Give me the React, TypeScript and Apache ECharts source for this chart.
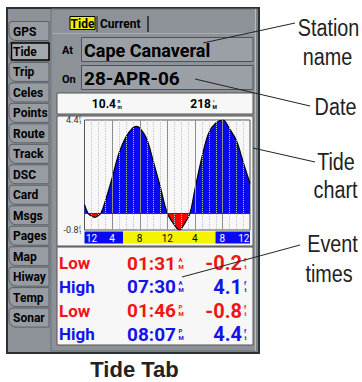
import React, { useEffect, useRef } from "react";
import * as echarts from "echarts";

// ---- data ----
const tideHours = [0, 0.5, 1, 1.5, 2, 2.4, 3, 4, 5, 6, 7, 7.5, 8, 9, 10, 11, 12, 13, 13.77, 14.5, 15.3, 16, 17, 18, 19, 20.1, 21, 22, 23, 24];
const tideFeet = [0.4, 0.0, -0.14, -0.2, -0.12, 0.0, 0.55, 1.65, 2.83, 3.6, 4.03, 4.1, 4.03, 3.53, 2.42, 1.23, 0.0, -0.55, -0.8, -0.5, 0.0, 1.1, 2.6, 3.78, 4.25, 4.4, 4.0, 3.45, 2.42, 1.4];
const yTickValues = [-0.8, 4.4];
const hourTicks = [0, 4, 8, 12, 16, 20, 24];
const hourTickLabels = ["12", "4", "8", "12", "4", "8", "12"];
const daylightHours = [5.6, 19.0];
const tabNames = ["GPS", "Tide", "Trip", "Celes", "Points", "Route", "Track", "DSC", "Card", "Msgs", "Pages", "Map", "Hiway", "Temp", "Sonar"];
const selectedTab = "Tide";
const stationName = "Cape Canaveral";
const dateText = "28-APR-06";
const distanceValue = "10.4";
const bearingValue = "218";
const eventTypes = ["Low", "High", "Low", "High"];
const eventTimes = ["01:31", "07:30", "01:46", "08:07"];
const eventAmPm = ["AM", "AM", "PM", "PM"];
const eventHeights = [-0.2, 4.1, -0.8, 4.4];

const RED = "#f01414";
const BLUE = "#1414e8";
const FILL_BLUE = "#0a0af2";
const FILL_RED = "#ff0000";
const UI = "Roboto";
const ANNO = "'Liberation Sans', Arial, sans-serif";

type El = any;
const mkText = (x: number, y: number, t: string, font: string, fill: string, align = "left", z = -5, extra: any = {}): El => ({
  type: "text", z, x, y, silent: true, ...extra,
  style: { text: t, font, fill, align, verticalAlign: "middle", textAlign: align, textVerticalAlign: "middle" },
});
const mkLine = (x1: number, y1: number, x2: number, y2: number, stroke: string, lw = 1, z = -15, dash?: number[]): El => ({
  type: "line", z, silent: true, shape: { x1, y1, x2, y2 }, style: { stroke, lineWidth: lw, lineDash: dash },
});
const mkRect = (x: number, y: number, w: number, h: number, fill: string, stroke: string, lw = 1, z = -20, r: any = 0): El => ({
  type: "rect", z, silent: true, shape: { x, y, width: w, height: h, r }, style: { fill, stroke, lineWidth: lw },
});

function buildGraphics() {
  const els: El[] = [];
  const rect = (...a: any[]) => els.push((mkRect as any)(...a));
  const text = (...a: any[]) => els.push((mkText as any)(...a));
  const line = (...a: any[]) => els.push((mkLine as any)(...a));

  // device frame
  rect(7, 8, 252, 345, "#8d9298", "#2e3134", 2, -30);
  rect(51, 9, 206, 342, "none", "#6b7075", 1, -29);
  line(255.5, 9, 255.5, 351, "#b8bcc0", 1, -28);
  line(52, 33.5, 254, 33.5, "#a9adb2", 1, -28);

  // left tabs
  tabNames.forEach((name, i) => {
    const cy = 31 + i * 20.47;
    rect(9, cy - 9.5, 40, 19, "#979ca2", "#5b6064", 1, -25, [3, 0, 0, 7]);
    if (name === selectedTab) rect(11.5, cy - 8.5, 37.5, 17, "#a4a9ae", "#000", 1.5, -24);
    text(13, cy + 0.5, name, `bold 12px ${UI}`, "#000");
  });

  // top tabs
  rect(70, 16.5, 25, 13, "#f2f200", "#000", 1, -24);
  text(82.5, 23.5, "Tide", `bold 12px ${UI}`, "#000", "center");
  text(100, 23.5, "Current", `bold 12px ${UI}`, "#000");
  line(97, 16, 97, 32, "#222", 1);
  line(148, 16, 148, 32, "#222", 1.5);

  // At / On rows
  text(62, 50.5, "At", `bold 11px ${UI}`, "#000");
  text(62, 79, "On", `bold 11px ${UI}`, "#000");
  rect(81.5, 37.5, 171.5, 24, "#9aa0a6", "#4e5256", 1, -22);
  rect(81.5, 65.5, 171.5, 24, "#9aa0a6", "#4e5256", 1, -22);
  text(84, 50, stationName, `bold 18px ${UI}`, "#000");
  text(84, 78, dateText, `bold 19px ${UI}`, "#000");

  // info bar
  rect(57, 93, 196, 21, "#f7f7f7", "#555", 1, -22);
  text(116, 104, distanceValue, `bold 12px ${UI}`, "#000", "right");
  text(117.5, 101, "n", `bold 5px ${UI}`, "#000");
  text(117.5, 107, "m", `bold 5px ${UI}`, "#000");
  text(211, 104, bearingValue, `bold 12px ${UI}`, "#000", "right");
  text(212.5, 101, "°", `bold 6px ${UI}`, "#000");
  text(212.5, 107, "M", `bold 5px ${UI}`, "#000");

  // chart panel + events panel
  rect(57, 116, 196, 130, "#f7f7f7", "#555", 1, -22);
  rect(57, 247, 196, 98, "#f7f7f7", "#555", 1, -22);

  eventTypes.forEach((t, i) => {
    const cy = 263 + i * 23.8;
    const col = t === "Low" ? RED : BLUE;
    text(59, cy, t, `bold 17px ${UI}`, col);
    text(176, cy, eventTimes[i], `bold 19px ${UI}`, col, "right");
    text(178.5, cy - 4, eventAmPm[i][0], `bold 6px ${UI}`, col);
    text(178.5, cy + 3, eventAmPm[i][1], `bold 6px ${UI}`, col);
    text(242, cy, eventHeights[i].toFixed(1), `bold 20px ${UI}`, col, "right");
    text(244, cy - 4, "f", `bold 6px ${UI}`, col);
    text(244.5, cy + 3, "t", `bold 6px ${UI}`, col);
  });

  // annotations
  const anno = (cx: number, cy: number, t: string) => text(cx, cy, t, `23px ${ANNO}`, "#222", "center", 50, { scaleX: 0.86 });
  anno(328.5, 28, "Station");
  anno(327.5, 57, "name");
  anno(335.5, 107, "Date");
  anno(336, 162, "Tide");
  anno(335.5, 190, "chart");
  anno(332.5, 244, "Event");
  anno(329, 274, "times");
  line(203, 43, 295, 23, "#222", 1, 50);
  line(195, 79, 310, 106, "#222", 1, 50);
  line(253, 148, 315, 162, "#222", 1, 50);
  line(182, 277, 300, 245, "#222", 1, 50);
  text(134.5, 369, "Tide Tab", `bold 22px ${ANNO}`, "#222", "center", 50);
  return els;
}

export default function App() {
  const ref = useRef<HTMLDivElement>(null);
  useEffect(() => {
    if (!ref.current) return;
    const chart = echarts.init(ref.current, undefined, { renderer: "svg" });
    const graphics = buildGraphics();
    const hidden = { axisLine: { show: false }, axisTick: { show: false }, axisLabel: { show: false }, splitLine: { show: false } };
    const option: any = {
      animation: false,
      textStyle: { fontFamily: UI },
      graphic: { elements: graphics },
      grid: [
        { left: 84.5, top: 120, width: 165.5, height: 110, show: true, borderColor: "#555", borderWidth: 1, backgroundColor: "transparent" },
        { left: 84.5, top: 231.5, width: 165.5, height: 12, show: false },
      ],
      xAxis: [
        { gridIndex: 0, type: "value", min: 0, max: 24, interval: 4, ...hidden },
        { gridIndex: 1, type: "value", min: 0, max: 24, interval: 4, ...hidden },
      ],
      yAxis: [
        { gridIndex: 0, type: "value", min: -0.8, max: 4.4, ...hidden },
        { gridIndex: 1, type: "value", min: 0, max: 1, show: false },
      ],
      series: [
        {
          type: "line", xAxisIndex: 0, yAxisIndex: 0,
          data: tideHours.map((h, i) => [h, tideFeet[i]]),
          smooth: 0.35, symbol: "none",
          lineStyle: { color: "#000", width: 1.2 },
          areaStyle: { opacity: 1, color: FILL_BLUE },
          z: 2,
        },
      ],
    };
    chart.setOption(option);

    const px = (h: number) => chart.convertToPixel({ xAxisIndex: 0 }, h) as number;
    const py = (v: number) => chart.convertToPixel({ yAxisIndex: 0 }, v) as number;
    const top = py(4.4), bot = py(-0.8), zero = py(0);
    const f = (zero - top) / (bot - top);
    const extra: El[] = [];

    // hour grid lines over the fill
    for (let h = 1; h < 24; h++) {
      const x = Math.round(px(h)) + 0.5;
      if (h % 4 === 0) extra.push(mkLine(x, top, x, bot, "#8e8e8e", 1, 10));
      else extra.push(mkLine(x, top, x, bot, "#c4c4c4", 1, 10, [1, 1]));
    }
    extra.push(mkLine(px(0), Math.round(zero) + 0.5, px(24), Math.round(zero) + 0.5, "#333", 1, 11));

    // y labels
    yTickValues.forEach((v) => {
      const y = py(v);
      const x = px(0);
      extra.push(mkText(x - 6, y, v.toFixed(1), `9px ${UI}`, "#333", "right", 5));
      extra.push(mkText(x - 5.5, y - 2.5, "f", `5px ${UI}`, "#333", "left", 5));
      extra.push(mkText(x - 5, y + 1.5, "t", `5px ${UI}`, "#333", "left", 5));
    });

    // daylight bar
    const bx0 = chart.convertToPixel({ xAxisIndex: 1 }, 0) as number;
    const bx1 = chart.convertToPixel({ xAxisIndex: 1 }, 24) as number;
    const by0 = chart.convertToPixel({ yAxisIndex: 1 }, 1) as number;
    const by1 = chart.convertToPixel({ yAxisIndex: 1 }, 0) as number;
    const d0 = chart.convertToPixel({ xAxisIndex: 1 }, daylightHours[0]) as number;
    const d1 = chart.convertToPixel({ xAxisIndex: 1 }, daylightHours[1]) as number;
    extra.push(mkRect(bx0, by0, d0 - bx0, by1 - by0, FILL_BLUE, "none", 0, 15));
    extra.push(mkRect(d0, by0, d1 - d0, by1 - by0, "#f4f400", "none", 0, 15));
    extra.push(mkRect(d1, by0, bx1 - d1, by1 - by0, FILL_BLUE, "none", 0, 15));
    hourTicks.forEach((h, i) => {
      let x = chart.convertToPixel({ xAxisIndex: 1 }, h) as number;
      let align = "center";
      if (x <= bx0 + 0.5) { x = bx0 + 1.5; align = "left"; }
      if (x >= bx1 - 0.5) { x = bx1 - 0.5; align = "right"; }
      const day = h > daylightHours[0] && h < daylightHours[1];
      extra.push(mkText(x, (by0 + by1) / 2 + 0.5, hourTickLabels[i], `10px ${UI}`, day ? "#000" : "#fff", align, 20));
    });

    chart.setOption({
      graphic: { elements: graphics.concat(extra) },
      series: [{
        areaStyle: {
          opacity: 1,
          color: new echarts.graphic.LinearGradient(0, top, 0, bot, [
            { offset: 0, color: FILL_BLUE }, { offset: f, color: FILL_BLUE },
            { offset: f, color: FILL_RED }, { offset: 1, color: FILL_RED },
          ], true),
        },
      }],
    });
    return () => chart.dispose();
  }, []);
  return <div ref={ref} style={{ position: "absolute", left: 0, top: 0, width: 362, height: 382 }} />;
}
